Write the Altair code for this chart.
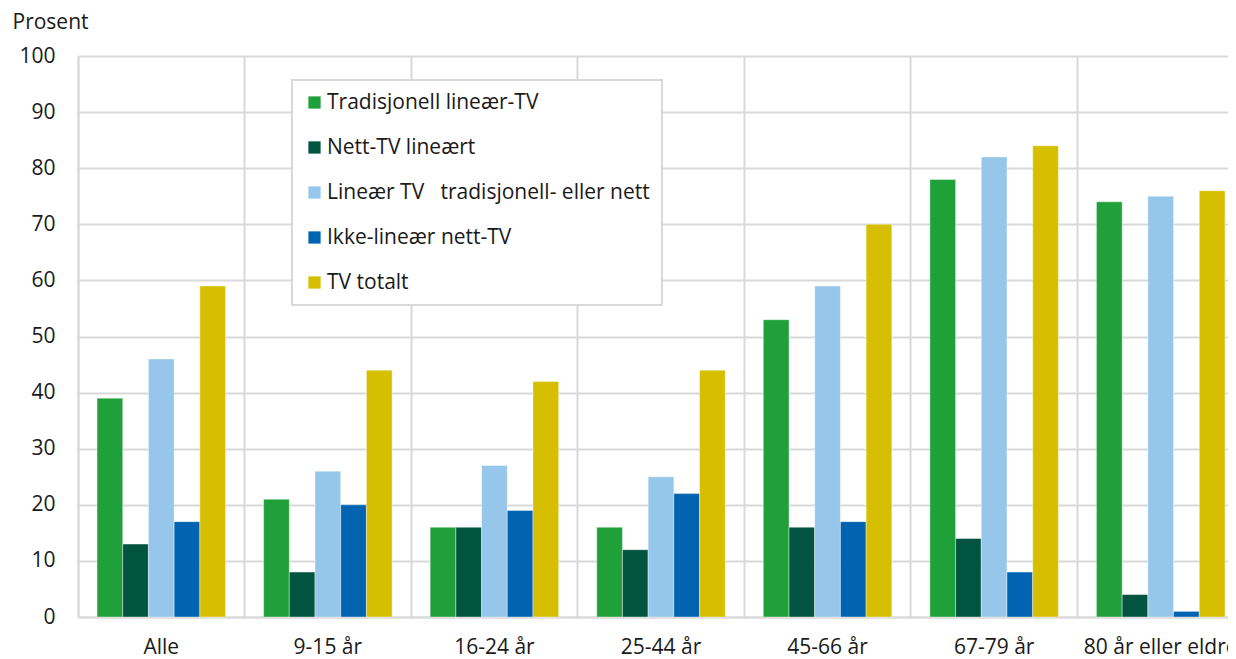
import altair as alt
import pandas as pd

categories = ["Alle", "9-15 år", "16-24 år", "25-44 år", "45-66 år", "67-79 år", "80 år eller eldre"]
series = ["Tradisjonell lineær-TV", "Nett-TV lineært", "Lineær TV\u00a0\u00a0\u00a0tradisjonell- eller nett",
          "Ikke-lineær nett-TV", "TV totalt"]
colors = ["#20a039", "#005440", "#96c7eb", "#0064b0", "#d6bf00"]

trad = [39, 21, 16, 16, 53, 78, 74]
nett_lin = [13, 8, 16, 12, 16, 14, 4]
lin_tot = [46, 26, 27, 25, 59, 82, 75]
ikke_lin = [17, 20, 19, 22, 17, 8, 1]
tv_tot = [59, 44, 42, 44, 70, 84, 76]

rows = []
for s, vals in zip(series, [trad, nett_lin, lin_tot, ikke_lin, tv_tot]):
    for c, v in zip(categories, vals):
        rows.append({"kat": c, "serie": s, "verdi": v})
df = pd.DataFrame(rows)

FONT = "Open Sans"
FS = 21

chart = alt.Chart(df).mark_bar(stroke="white", strokeWidth=0.4).encode(
    x=alt.X("kat:N", sort=categories, title=None,
            scale=alt.Scale(paddingInner=0, paddingOuter=0),
            axis=alt.Axis(grid=True, bandPosition=0, tickExtra=False, gridColor="#d9d9d9", gridWidth=2,
                          domainColor="#d9d9d9", domainWidth=2, ticks=False,
                          labelAngle=0, labelFontSize=FS, labelColor="#1a1a1a",
                          labelFont=FONT, labelPadding=19, labelLimit=0)),
    xOffset=alt.XOffset("serie:N", sort=series,
                        scale=alt.Scale(paddingInner=0, paddingOuter=0.74)),
    y=alt.Y("verdi:Q", scale=alt.Scale(domain=[0, 100]),
            axis=alt.Axis(values=list(range(0, 101, 10)), grid=True, gridColor="#d9d9d9",
                          gridWidth=2, domainColor="#d9d9d9", domainWidth=2, ticks=False,
                          labelFontSize=FS, labelColor="#1a1a1a", labelFont=FONT,
                          labelPadding=23, title="Prosent", titleAngle=0, titleAlign="left",
                          titleBaseline="middle", titleX=-66, titleY=-34, titleFontSize=FS,
                          titleFontWeight="normal", titleFont=FONT, titleColor="#1a1a1a")),
    color=alt.Color("serie:N", sort=series,
                    scale=alt.Scale(domain=series, range=colors),
                    legend=alt.Legend(title=None, orient="none", legendX=214, legendY=24,
                                      fillColor="white", strokeColor="#d9d9d9",
                                      padding=12, symbolType="square", symbolSize=150,
                                      symbolStrokeWidth=0, labelFontSize=FS, labelFont=FONT,
                                      labelColor="#1a1a1a", rowPadding=23, labelOffset=2,
                                      labelLimit=0)),
).properties(
    width=1166, height=561,
    autosize=alt.AutoSizeParams(type="none"),
    padding={"left": 70, "top": 48, "right": -16, "bottom": 52},
).configure_view(stroke=None).configure_legend(strokeWidth=2)

chart.save("out.html", embed_options={"renderer": "svg", "actions": False})
